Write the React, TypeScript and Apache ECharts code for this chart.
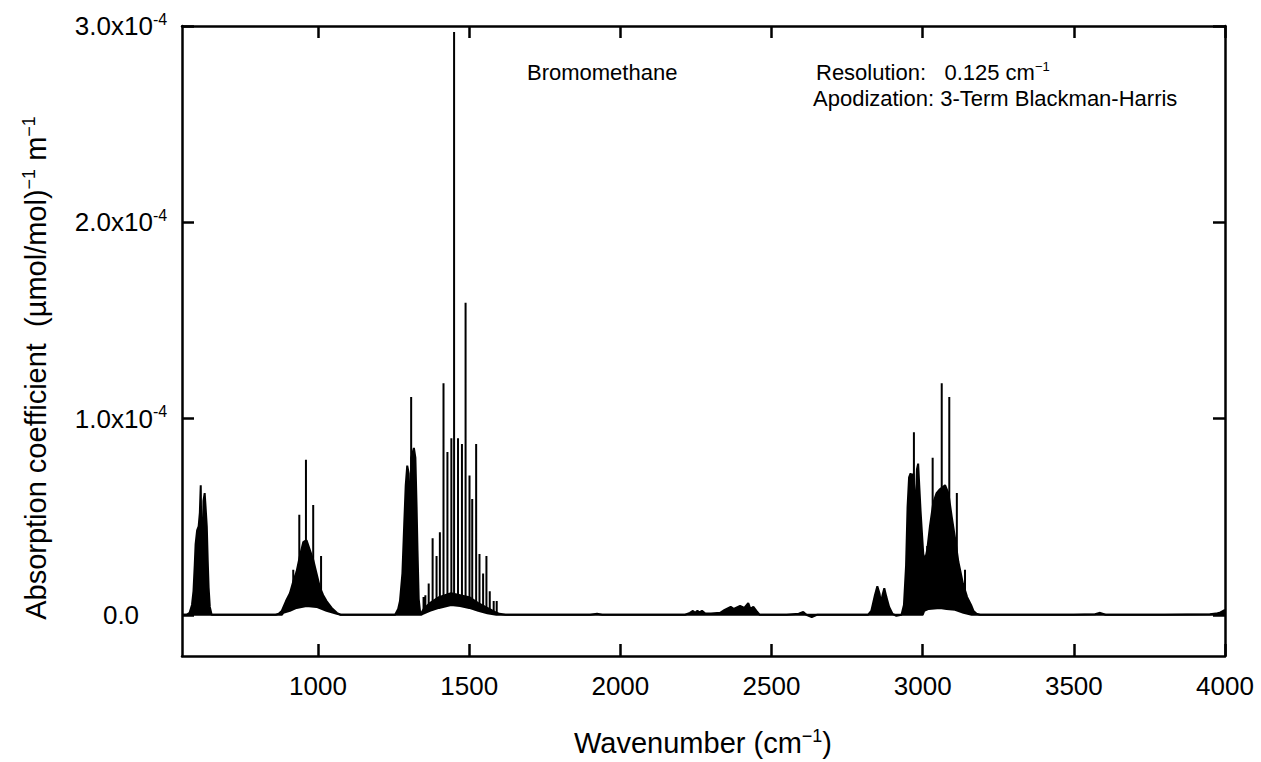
import React, { useEffect, useRef } from "react";
import * as echarts from "echarts";

// Wavenumber axis (cm^-1)
const xMin = 550;
const xMax = 4000;
const xTicks = [1000, 1500, 2000, 2500, 3000, 3500, 4000];
// Absorption coefficient axis, in units of 1e-4 (µmol/mol)^-1 m^-1
const yMin = -0.21;
const yMax = 3.0;
const yTicks = [0, 1, 2, 3];

// Upper outline of the spectrum (wavenumber, value x1e-4)
const envelope: [number, number][] = [
  [550, 0.0], [565, 0.0], [575, 0.01], [583, 0.05], [588, 0.12], [592, 0.25], [595, 0.36], [600, 0.43],
  [605, 0.45], [609, 0.52], [612, 0.66], [614, 0.4], [616, 0.07], [618, 0.35], [621, 0.58], [625, 0.62],
  [628, 0.55], [632, 0.45], [635, 0.28], [638, 0.14], [642, 0.04], [648, 0.0],
  [700, 0.0], [800, 0.0], [860, 0.0], [870, 0.005], [880, 0.02], [894, 0.07], [907, 0.11], [918, 0.17],
  [929, 0.22], [940, 0.3], [951, 0.37], [962, 0.38], [973, 0.33], [984, 0.28], [995, 0.21], [1006, 0.14],
  [1017, 0.1], [1028, 0.07], [1045, 0.035], [1062, 0.01], [1075, 0.0],
  [1150, 0.0], [1255, 0.0], [1265, 0.03], [1271, 0.07], [1279, 0.21], [1285, 0.46], [1290, 0.66],
  [1295, 0.76], [1300, 0.72], [1302, 0.58], [1304, 0.11], [1306, 0.5], [1308, 0.8], [1312, 0.82],
  [1317, 0.85], [1322, 0.8], [1326, 0.55], [1329, 0.33], [1333, 0.08], [1338, 0.01], [1342, 0.01],
  [1350, 0.03], [1370, 0.06], [1400, 0.09], [1440, 0.11], [1470, 0.1], [1500, 0.09], [1530, 0.06],
  [1560, 0.035], [1585, 0.015], [1600, 0.005], [1620, 0.0],
  [1700, 0.0], [1800, 0.0], [1900, 0.0], [1923, 0.005], [1940, 0.0], [2100, 0.0], [2214, 0.0],
  [2230, 0.01], [2240, 0.02], [2247, 0.01], [2255, 0.02], [2262, 0.012], [2270, 0.02], [2280, 0.008],
  [2300, 0.006], [2330, 0.01], [2345, 0.025], [2365, 0.04], [2375, 0.03], [2396, 0.045], [2410, 0.035],
  [2423, 0.06], [2430, 0.03], [2440, 0.04], [2450, 0.02], [2461, 0.0],
  [2550, 0.0], [2590, 0.005], [2605, 0.014], [2615, 0.0], [2633, -0.012], [2650, 0.0], [2750, 0.0],
  [2819, 0.0], [2830, 0.02], [2842, 0.1], [2850, 0.145], [2857, 0.11], [2862, 0.06], [2867, 0.1],
  [2873, 0.135], [2880, 0.09], [2889, 0.04], [2900, 0.005], [2913, -0.005], [2930, 0.0], [2938, 0.05],
  [2945, 0.25], [2950, 0.55], [2955, 0.7], [2960, 0.72], [2965, 0.7], [2970, 0.72], [2973, 0.6],
  [2975, 0.18], [2978, 0.6], [2981, 0.74], [2985, 0.77], [2989, 0.65], [2993, 0.53], [2997, 0.43],
  [3002, 0.31], [3008, 0.28], [3015, 0.33], [3024, 0.45], [3035, 0.57], [3046, 0.62], [3057, 0.64],
  [3074, 0.66], [3085, 0.62], [3096, 0.5], [3107, 0.39], [3118, 0.27], [3125, 0.22], [3133, 0.16],
  [3147, 0.09], [3160, 0.05], [3168, 0.02], [3178, 0.005], [3190, 0.0],
  [3300, 0.0], [3500, 0.0], [3570, 0.003], [3587, 0.01], [3605, 0.0], [3800, 0.0], [3950, 0.003],
  [3970, 0.006], [3985, 0.012], [4000, 0.025],
];

// Lower outline (minima between the dense rotational lines)
const valleys: [number, number][] = [
  [550, 0], [880, 0], [885, 0.01], [907, 0.02], [929, 0.035], [962, 0.045], [995, 0.04], [1028, 0.02],
  [1062, 0.005], [1075, 0],
  [1342, 0], [1345, 0.003], [1370, 0.02], [1400, 0.035], [1440, 0.05], [1470, 0.045], [1500, 0.035],
  [1530, 0.02], [1560, 0.008], [1590, 0],
  [3000, 0], [3005, 0.02], [3020, 0.03], [3057, 0.035], [3079, 0.03], [3107, 0.025], [3135, 0.01],
  [3162, 0], [4000, 0],
];

// Sharp line peaks (wavenumber, peak value x1e-4, foot value x1e-4)
const spikes: [number, number, number][] = [
  [918, 0.23, 0.05], [938, 0.51, 0.05], [960, 0.79, 0.06], [984, 0.56, 0.06], [1010, 0.3, 0.05],
  [1308, 1.11, 0.2],
  [1349, 0.09, 0.02], [1355, 0.1, 0.02], [1366, 0.16, 0.03], [1379, 0.39, 0.04], [1392, 0.3, 0.05],
  [1403, 0.42, 0.05], [1415, 1.18, 0.06], [1428, 0.83, 0.06], [1441, 0.9, 0.07], [1450, 2.97, 0.07],
  [1463, 0.9, 0.07], [1476, 0.87, 0.07], [1488, 1.59, 0.06], [1501, 0.71, 0.06], [1510, 0.59, 0.05],
  [1523, 0.87, 0.05], [1534, 0.31, 0.04], [1546, 0.21, 0.03], [1557, 0.3, 0.03], [1568, 0.12, 0.02],
  [1581, 0.07, 0.01], [1591, 0.07, 0.005],
  [2971, 0.93, 0.3], [3015, 0.35, 0.05], [3033, 0.8, 0.05], [3063, 1.18, 0.05], [3088, 1.11, 0.05],
  [3113, 0.62, 0.05], [3140, 0.23, 0.03],
];

const FONT = '"Liberation Sans", Arial, Helvetica, sans-serif';

export default function App() {
  const ref = useRef<HTMLDivElement>(null);
  useEffect(() => {
    const chart = echarts.init(ref.current!, null, { renderer: "svg" });
    const spikeData: any[] = [];
    spikes.forEach(([w, v, b]) => {
      spikeData.push([w, b], [w, v], [w, "-"]);
    });
    const lineStyle = { color: "#000", width: 2.5 };
    const tickStyle = { color: "#000", width: 2.5 };
    const rich = {
      m: { fontSize: 26, fontFamily: FONT, color: "#000", lineHeight: 30 },
      s: { fontSize: 16, fontFamily: FONT, color: "#000", verticalAlign: "top", lineHeight: 16 },
    };
    const titleRich = {
      m: { fontSize: 29, fontFamily: FONT, color: "#000", lineHeight: 33 },
      s: { fontSize: 18, fontFamily: FONT, color: "#000", verticalAlign: "top", lineHeight: 18 },
    };
    const noteRich = {
      m: { fontSize: 22, fontFamily: FONT, color: "#000", lineHeight: 25 },
      s: { fontSize: 13, fontFamily: FONT, color: "#000", verticalAlign: "top", lineHeight: 13 },
    };
    chart.setOption({
      animation: false,
      backgroundColor: "#fff",
      grid: { left: 182, right: 36, top: 26, bottom: 106, outerBoundsMode: "none" },
      xAxis: [
        {
          type: "value", min: xMin, max: xMax, position: "bottom",
          axisLine: { show: true, onZero: false, lineStyle },
          axisTick: { show: true, inside: true, length: 12, lineStyle: tickStyle, customValues: xTicks },
          axisLabel: {
            show: true, customValues: xTicks, color: "#000", fontSize: 26, fontFamily: FONT, margin: 17,
            formatter: (v: number) => String(v),
          },
          splitLine: { show: false },
        },
        {
          type: "value", min: xMin, max: xMax, position: "top",
          axisLine: { show: true, onZero: false, lineStyle },
          axisTick: { show: true, inside: true, length: 12, lineStyle: tickStyle, customValues: xTicks },
          axisLabel: { show: false },
          splitLine: { show: false },
        },
      ],
      yAxis: [
        {
          type: "value", min: yMin, max: yMax, position: "left",
          axisLine: { show: true, onZero: false, lineStyle },
          axisTick: { show: true, inside: true, length: 12, lineStyle: tickStyle, customValues: yTicks },
          axisLabel: {
            show: true, customValues: yTicks, align: "center", margin: 61,
            formatter: (v: number) => (v === 0 ? "{m|0.0}" : `{m|${v.toFixed(1)}x10}{s|-4}`),
            rich,
          },
          splitLine: { show: false },
        },
        {
          type: "value", min: yMin, max: yMax, position: "right",
          axisLine: { show: true, onZero: false, lineStyle },
          axisTick: { show: true, inside: true, length: 12, lineStyle: tickStyle, customValues: yTicks },
          axisLabel: { show: false },
          splitLine: { show: false },
        },
      ],
      series: [
        {
          // filled band between the upper outline and the line minima
          type: "custom", xAxisIndex: 0, yAxisIndex: 0, silent: true, z: 2,
          data: [[xMin, 0]],
          renderItem: (params: any, api: any) => {
            if (params.dataIndex !== 0) return null;
            const pts = envelope
              .map((p) => api.coord(p))
              .concat(valleys.slice().reverse().map((p) => api.coord(p)));
            return { type: "polygon", shape: { points: pts }, style: { fill: "#000", stroke: "none" } };
          },
        },
        {
          type: "line", xAxisIndex: 0, yAxisIndex: 0, data: envelope, symbol: "none", silent: true, z: 3,
          lineStyle: { color: "#000", width: 2 },
        },
        {
          type: "line", xAxisIndex: 0, yAxisIndex: 0, data: valleys, symbol: "none", silent: true, z: 3,
          lineStyle: { color: "#000", width: 2 },
        },
        {
          type: "line", xAxisIndex: 0, yAxisIndex: 0, data: spikeData, symbol: "none", silent: true, z: 4,
          connectNulls: false, lineStyle: { color: "#000", width: 2 },
        },
      ],
      graphic: [
        {
          type: "text", x: 703, y: 743,
          style: { text: "{m|Wavenumber (cm}{s|\u22121}{m|)}", rich: titleRich, align: "center", verticalAlign: "middle" },
        },
        {
          type: "text", x: 36, y: 368, rotation: Math.PI / 2,
          style: {
            text: "{m|Absorption coefficient  (\u00b5mol/mol)}{s|\u22121}{m| m}{s|\u22121}",
            rich: titleRich, align: "center", verticalAlign: "middle",
          },
        },
        {
          type: "text", x: 527, y: 72,
          style: { text: "{m|Bromomethane}", rich: noteRich, align: "left", verticalAlign: "middle" },
        },
        {
          type: "text", x: 816, y: 72,
          style: { text: "{m|Resolution:   0.125 cm}{s|\u22121}", rich: noteRich, align: "left", verticalAlign: "middle" },
        },
        {
          type: "text", x: 813, y: 98,
          style: { text: "{m|Apodization: 3-Term Blackman-Harris}", rich: noteRich, align: "left", verticalAlign: "middle" },
        },
      ],
    });
    return () => chart.dispose();
  }, []);
  return (
    <div
      ref={ref}
      style={{ position: "fixed", left: 0, top: 0, width: 1261, height: 762, background: "#fff" }}
    />
  );
}
